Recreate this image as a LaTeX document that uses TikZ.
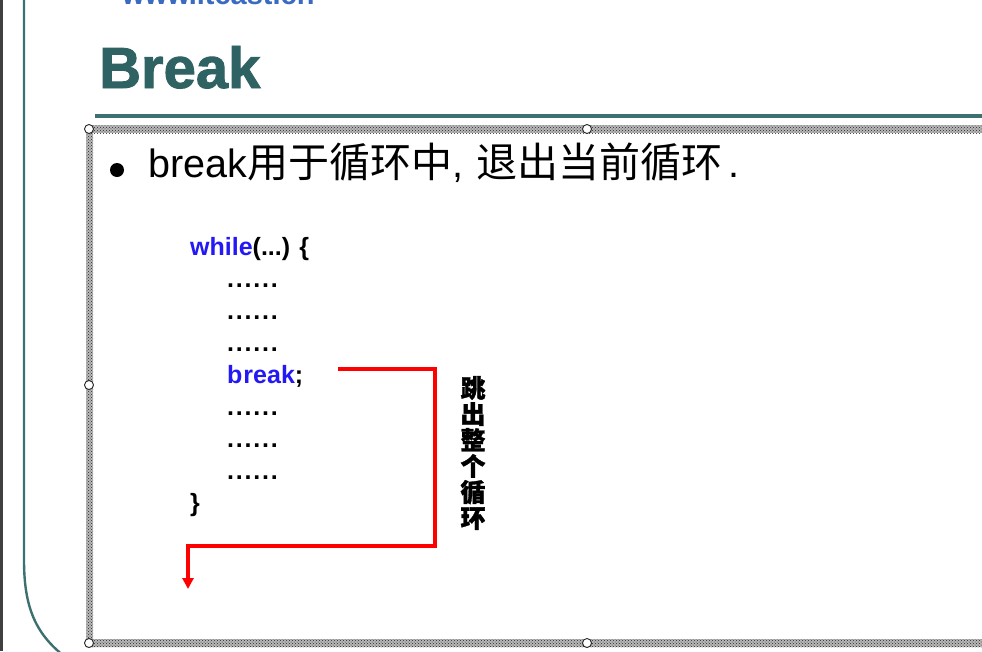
\documentclass[tikz,border=0pt]{standalone}
\usepackage{fontspec}
\setmainfont{Liberation Sans}
\newfontfamily\cjk{Noto Sans CJK SC}
\newfontfamily\titlefont{Liberation Sans}[BoldFeatures={FakeBold=1.6}]
\newfontfamily\cjkheavy{Noto Sans CJK SC}[BoldFeatures={FakeBold=1.2}]
\usetikzlibrary{patterns,arrows.meta}
\definecolor{teal1}{HTML}{2F6262}
\definecolor{teal2}{HTML}{3D7070}
\definecolor{webblue}{HTML}{3A6BC0}
\definecolor{kwblue}{HTML}{2418F5}
\newcommand{\dotrow}{.\kern1.8pt.\kern1.8pt.\kern1.8pt.\kern1.8pt.\kern1.8pt.}
\tikzset{
  bandbase/.style={fill=black!28, draw=none},
  band/.style={pattern=crosshatch dots, pattern color=black!85, draw=none},
  handle/.style={circle, draw=black!85, fill=white, line width=0.9pt, minimum size=9pt, inner sep=0pt},
  codeline/.style={anchor=base west, inner sep=0pt, font=\fontsize{25}{28}\selectfont\bfseries},
  redline/.style={draw=red, line width=3.2pt},
}
\begin{document}
\begin{tikzpicture}[x=1pt,y=-1pt]
\useasboundingbox (0,0) rectangle (982,651);
\clip (0,0) rectangle (982,651);
\fill[white] (0,0) rectangle (982,651);
% left dark strip
\fill[black!75] (0,0) rectangle (3,651);
% slide frame teal line with rounded corner
\draw[teal2, line width=2.4pt] (24,-5) -- (24,560) .. controls (24,612) and (38,638) .. (72,662);
% web address (cut off at top as in the screenshot)
\node[anchor=base west, inner sep=0pt, text=webblue, font=\fontsize{29}{30}\selectfont\bfseries] (web) at (122,4) {www.itcast.cn};
% title
\node[anchor=base west, inner sep=0pt, text=teal1, font=\titlefont\bfseries\fontsize{58}{60}\selectfont] (title) at (99,88) {Break};
% title rule
\draw[teal2, line width=4pt] (95,116) -- (990,116);
% selection frame bands
\foreach \r in {{(86,125) rectangle (990,133)},{(86,125) rectangle (93,647)},{(86,639) rectangle (990,647)}}{
  \fill[bandbase] \r;
  \fill[band] \r;
}
\node[handle] (h1) at (89,129) {};
\node[handle] (h2) at (587,129) {};
\node[handle] (h3) at (89,385) {};
\node[handle] (h4) at (89,643) {};
\node[handle] (h5) at (587,643) {};
% bullet
\fill (117,170) circle (7);
\node[anchor=base west, inner sep=0pt, font=\fontsize{39.5}{40}\selectfont] (bul) at (148,177)
  {break{\cjk\fontsize{41}{41}\selectfont 用于循环中},\hspace{14pt}{\cjk\fontsize{41}{41}\selectfont 退出当前循环}\hspace{6pt}.};
% code
\node[codeline] (l0) at (190,255) {\textcolor{kwblue}{while}(...) \{};
\node[codeline] (l1) at (227,287) {\dotrow};
\node[codeline] (l2) at (227,319) {\dotrow};
\node[codeline] (l3) at (227,351) {\dotrow};
\node[codeline] (l4) at (227,383) {\textcolor{kwblue}{b\kern1pt reak};};
\node[codeline] (l5) at (227,415) {\dotrow};
\node[codeline] (l6) at (227,447) {\dotrow};
\node[codeline] (l7) at (227,479) {\dotrow};
\node[codeline] (l8) at (190,511) {\}};
% red connector
\coordinate (s) at (338,369);
\coordinate (c1) at (435,546);
\coordinate (e) at (188,589);
\draw[redline, -{Triangle[length=11pt,width=11pt]}] (s) -| (c1) -| (e);
% vertical label
\node[align=center, inner sep=0pt, font=\cjkheavy\bfseries\fontsize{25}{26}\selectfont] (lab) at (473,453)
  {跳\\出\\整\\个\\循\\环};
\end{tikzpicture}
\end{document}
